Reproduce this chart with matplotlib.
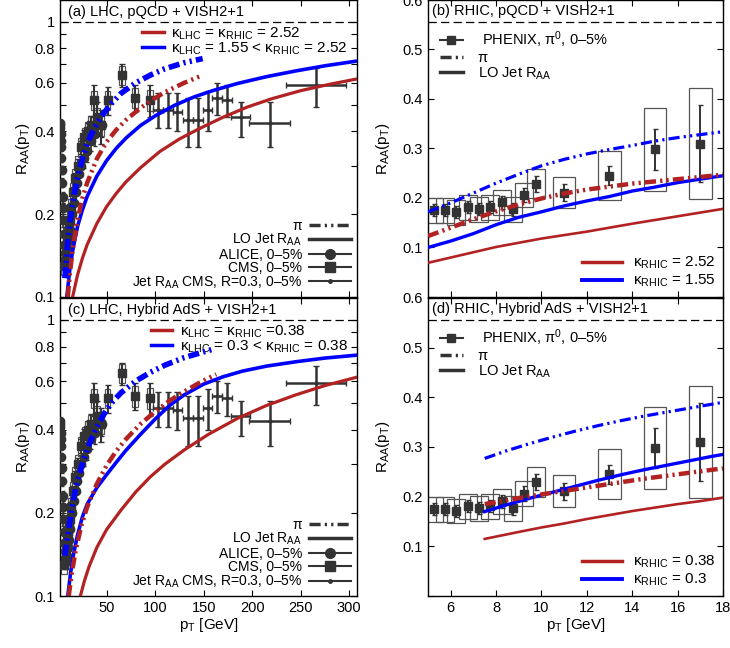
import matplotlib
matplotlib.use('Agg')
import matplotlib.pyplot as plt
import numpy as np
from matplotlib.lines import Line2D
from matplotlib.patches import Rectangle

plt.rcParams['font.family'] = ['Liberation Sans', 'DejaVu Sans']
plt.rcParams['mathtext.fontset'] = 'custom'
plt.rcParams['mathtext.rm'] = 'Liberation Sans'
plt.rcParams['mathtext.it'] = 'Liberation Sans:italic'
plt.rcParams['mathtext.default'] = 'regular'
plt.rcParams['font.size'] = 10.5
plt.rcParams['lines.scale_dashes'] = False

RED = '#b22222'
BLUE = '#0000ff'
DARK = '#333333'
DASHDOT = (0, (8, 3, 1.6, 3, 1.6, 3))

# ---------------- LHC data ----------------
pt_alice = [2.1, 2.3, 2.5, 2.7, 2.9, 3.1, 3.4, 3.8, 4.2, 4.6, 5.0, 5.5, 6.0, 6.5, 7.0, 8.0, 9.0,
            10.0, 11.0, 12.0, 14.0, 16.0, 18.0, 20.0, 22.0, 24.0, 27.0, 30.0, 34.0, 38.0, 45.0]
raa_alice = [0.43, 0.42, 0.41, 0.39, 0.37, 0.35, 0.32, 0.29, 0.26, 0.23, 0.21, 0.19, 0.17, 0.155,
             0.145, 0.135, 0.14, 0.15, 0.16, 0.175, 0.2, 0.22, 0.24, 0.26, 0.28, 0.3, 0.32, 0.34,
             0.37, 0.39, 0.42]
err_alice = [0.01, 0.01, 0.01, 0.01, 0.01, 0.01, 0.01, 0.01, 0.01, 0.01, 0.01, 0.01, 0.01, 0.01,
             0.01, 0.01, 0.01, 0.01, 0.01, 0.01, 0.015, 0.015, 0.02, 0.02, 0.02, 0.025, 0.025, 0.03,
             0.03, 0.035, 0.04]

pt_cms = [6.4, 7.2, 8.0, 8.8, 9.6, 10.4, 11.2, 12.0, 13.6, 15.2, 17.6, 20.8, 24.0, 27.2, 30.4,
          33.6, 36.8, 40.0, 44.0, 51.0, 66.0, 79.0, 95.0]
raa_cms = [0.13, 0.135, 0.14, 0.15, 0.16, 0.17, 0.18, 0.19, 0.21, 0.24, 0.27, 0.30, 0.35, 0.38,
           0.40, 0.42, 0.52, 0.45, 0.42, 0.52, 0.64, 0.53, 0.52]
stat_cms = [0.004, 0.004, 0.005, 0.005, 0.006, 0.006, 0.007, 0.008, 0.009, 0.011, 0.013, 0.016,
            0.02, 0.024, 0.03, 0.035, 0.07, 0.06, 0.06, 0.06, 0.06, 0.06, 0.07]
syst_cms = [0.01, 0.01, 0.011, 0.012, 0.013, 0.014, 0.015, 0.016, 0.017, 0.019, 0.022, 0.024,
            0.028, 0.03, 0.032, 0.034, 0.04, 0.036, 0.034, 0.04, 0.05, 0.045, 0.045]

pt_jet = [103, 113, 123, 134, 144, 154, 164, 174, 188, 218, 266]
raa_jet = [0.48, 0.48, 0.47, 0.44, 0.44, 0.48, 0.53, 0.52, 0.45, 0.43, 0.59]
jet_lo = [0.07, 0.07, 0.07, 0.09, 0.09, 0.08, 0.07, 0.07, 0.07, 0.08, 0.10]
jet_hi = [0.07, 0.07, 0.08, 0.09, 0.09, 0.08, 0.07, 0.07, 0.06, 0.08, 0.09]
jet_xw = [5, 5, 5, 5, 5, 5, 5, 5, 9.5, 21, 31]

# pQCD curves (a)
a_red_lo_x = [15, 20, 25, 30, 40, 50, 60, 70, 85, 105, 125, 145, 170, 195, 220, 250, 280, 308]
a_red_lo_y = [0.10, 0.12, 0.138, 0.155, 0.185, 0.213, 0.238, 0.262, 0.295, 0.338, 0.375, 0.408,
              0.45, 0.49, 0.525, 0.562, 0.593, 0.62]
a_blue_lo_x = [9, 12, 15, 20, 25, 30, 40, 50, 60, 70, 85, 100, 120, 140, 160, 185, 215, 245, 275,
               308]
a_blue_lo_y = [0.10, 0.125, 0.147, 0.18, 0.207, 0.232, 0.275, 0.313, 0.347, 0.378, 0.42, 0.455,
               0.497, 0.533, 0.563, 0.597, 0.632, 0.663, 0.692, 0.72]
a_red_pi_x = [10, 12, 15, 20, 25, 30, 40, 50, 60, 70, 83, 95, 110, 130, 149]
a_red_pi_y = [0.10, 0.12, 0.148, 0.19, 0.228, 0.26, 0.318, 0.366, 0.405, 0.44, 0.48, 0.515, 0.555,
              0.60, 0.64]
a_blue_pi_x = [7, 10, 13, 16, 20, 25, 30, 35, 40, 48, 55, 65, 80, 95, 110, 130, 149]
a_blue_pi_y = [0.117, 0.158, 0.197, 0.23, 0.27, 0.318, 0.36, 0.395, 0.427, 0.47, 0.505, 0.55,
               0.60, 0.64, 0.675, 0.71, 0.735]

# Hybrid AdS curves (c)
c_red_lo_x = [23, 27, 32, 40, 50, 65, 80, 95, 110, 130, 155, 185, 215, 245, 275, 308]
c_red_lo_y = [0.10, 0.113, 0.128, 0.15, 0.174, 0.205, 0.238, 0.27, 0.30, 0.338, 0.385, 0.44,
              0.49, 0.535, 0.578, 0.62]
c_blue_lo_x = [10, 13, 16, 20, 25, 30, 40, 50, 60, 70, 85, 100, 115, 130, 150, 170, 190, 215, 245,
               275, 308]
c_blue_lo_y = [0.10, 0.122, 0.142, 0.166, 0.193, 0.215, 0.247, 0.275, 0.305, 0.337, 0.385, 0.437,
               0.49, 0.535, 0.585, 0.622, 0.652, 0.68, 0.705, 0.727, 0.745]
c_red_pi_x = [11, 14, 18, 24, 30, 40, 50, 60, 70, 85, 100, 115, 130, 145, 163]
c_red_pi_y = [0.10, 0.12, 0.145, 0.18, 0.21, 0.255, 0.297, 0.335, 0.37, 0.42, 0.465, 0.51, 0.55,
              0.59, 0.635]
c_blue_pi_x = [7, 10, 13, 16, 20, 25, 30, 35, 40, 48, 55, 65, 80, 95, 110, 130, 158]
c_blue_pi_y = [0.14, 0.165, 0.195, 0.225, 0.26, 0.30, 0.34, 0.375, 0.41, 0.46, 0.50, 0.545, 0.60,
               0.645, 0.685, 0.73, 0.78]

# ---------------- RHIC data ----------------
pt_phenix = [5.25, 5.75, 6.25, 6.75, 7.25, 7.75, 8.25, 8.75, 9.25, 9.75, 11, 13, 15, 17]
raa_phenix = [0.175, 0.175, 0.171, 0.181, 0.177, 0.181, 0.191, 0.177, 0.206, 0.229, 0.211,
              0.245, 0.298, 0.31]
stat_phenix = [0.012, 0.012, 0.012, 0.012, 0.012, 0.012, 0.013, 0.013, 0.015, 0.016, 0.017,
               0.019, 0.041, 0.078]
syst_phenix = [0.025, 0.025, 0.025, 0.025, 0.025, 0.025, 0.025, 0.025, 0.025, 0.03, 0.032,
               0.05, 0.083, 0.112]
box_w_phenix = [0.4, 0.4, 0.4, 0.4, 0.4, 0.4, 0.4, 0.4, 0.4, 0.4, 0.5, 0.5, 0.5, 0.5]

b_red_lo_x = [5, 8, 10, 12, 14, 16, 18]
b_red_lo_y = [0.069, 0.101, 0.118, 0.132, 0.148, 0.163, 0.178]
b_blue_lo_x = [5, 6, 7, 8, 9, 10, 11, 12, 13, 14, 15, 16, 17, 18]
b_blue_lo_y = [0.10, 0.113, 0.128, 0.146, 0.161, 0.172, 0.184, 0.194, 0.203, 0.214, 0.222,
               0.231, 0.238, 0.245]
b_red_pi_x = [5, 6, 7, 8, 9, 10, 11, 12, 13, 14, 16, 18]
b_red_pi_y = [0.123, 0.14, 0.157, 0.173, 0.187, 0.199, 0.209, 0.217, 0.223, 0.229, 0.238, 0.247]
b_blue_pi_x = [5, 6, 7, 8, 9, 10, 11, 12, 13, 14, 15, 16, 17, 18]
b_blue_pi_y = [0.172, 0.19, 0.21, 0.23, 0.248, 0.265, 0.278, 0.289, 0.298, 0.306, 0.315, 0.322,
               0.328, 0.334]

d_red_lo_x = [7.5, 9, 10, 11, 12, 13, 14, 15, 16, 17, 18]
d_red_lo_y = [0.115, 0.129, 0.138, 0.146, 0.155, 0.163, 0.171, 0.178, 0.185, 0.191, 0.198]
d_x = [7.5, 8.5, 9.5, 10.5, 11.5, 12.5, 13.5, 14.5, 15.5, 16.5, 17.5, 18]
d_blue_lo_y = [0.170, 0.184, 0.197, 0.209, 0.221, 0.233, 0.244, 0.254, 0.263, 0.272, 0.281, 0.285]
d_red_pi_y = [0.185, 0.193, 0.201, 0.208, 0.215, 0.222, 0.229, 0.236, 0.242, 0.248, 0.254, 0.257]
d_blue_pi_y = [0.277, 0.293, 0.307, 0.32, 0.332, 0.343, 0.353, 0.362, 0.37, 0.378, 0.386, 0.39]

RAA_LABEL = 'R$_{AA}$(p$_T$)'
PT_LABEL = 'p$_T$ [GeV]'


def style_axes(ax):
    ax.tick_params(which='both', direction='in', top=True, right=True, length=4, labelsize=10.5)
    for s in ax.spines.values():
        s.set_linewidth(1.0)


def draw_lhc(ax, tag, curves, kappa_labels, show_x):
    # data first, curves on top
    for x, y, s in zip(pt_cms, raa_cms, syst_cms):
        ax.add_patch(Rectangle((x - 3, y - s), 6, 2 * s, fill=False, ec='#555555', lw=0.9, zorder=2))
    ax.errorbar(pt_alice, raa_alice, yerr=err_alice, fmt='o', color=DARK, ms=6, elinewidth=1.2,
                capsize=1.5, zorder=3)
    ax.errorbar(pt_cms, raa_cms, yerr=stat_cms, fmt='s', color=DARK, ms=6, elinewidth=1.5,
                capsize=2, zorder=3)
    ax.errorbar(pt_jet, raa_jet, yerr=[jet_lo, jet_hi], xerr=jet_xw, fmt='o', color=DARK, ms=2,
                elinewidth=1.8, capsize=2, zorder=3)

    (rlx, rly), (blx, bly), (rpx, rpy), (bpx, bpy) = curves
    ax.plot(rlx, rly, color=RED, lw=2.3, zorder=5)
    ax.plot(blx, bly, color=BLUE, lw=2.6, zorder=5)
    ax.plot(rpx, rpy, color=RED, lw=3.2, ls=DASHDOT, zorder=6)
    ax.plot(bpx, bpy, color=BLUE, lw=4.0, ls=DASHDOT, zorder=6)

    ax.axhline(1.0, color='black', lw=0.9, ls=(0, (6, 3)), zorder=1)
    ax.set_yscale('log')
    ax.set_xlim(2, 308)
    ax.set_ylim(0.1, 1.2)
    ax.set_yticks(np.arange(0.1, 1.05, 0.1))
    ax.set_yticklabels(['0.1', '0.2', '', '0.4', '', '0.6', '', '0.8', '', '1'])
    ax.yaxis.set_minor_locator(matplotlib.ticker.NullLocator())
    ax.set_xticks([50, 100, 150, 200, 250, 300])
    if show_x:
        ax.set_xlabel(PT_LABEL, fontsize=11, labelpad=1)
    else:
        ax.set_xticklabels([])
    ax.set_ylabel(RAA_LABEL, fontsize=11, labelpad=2)
    style_axes(ax)
    ax.text(0.027, 0.982, tag, transform=ax.transAxes, va='top', ha='left', fontsize=10.5)

    top = [Line2D([], [], color=RED, lw=2.5), Line2D([], [], color=BLUE, lw=2.5)]
    leg1 = ax.legend(top, kappa_labels, loc='upper right', bbox_to_anchor=(1.0, 0.945),
                     frameon=False, handlelength=1.4, handletextpad=0.5, labelspacing=-0.1,
                     borderaxespad=0.2, fontsize=11)
    ax.add_artist(leg1)
    bottom = [
        Line2D([], [], color=DARK, lw=2.5, ls=DASHDOT),
        Line2D([], [], color=DARK, lw=2.5),
        Line2D([], [], color=DARK, lw=1.5, marker='o', ms=7),
        Line2D([], [], color=DARK, lw=1.5, marker='s', ms=7),
        Line2D([], [], color=DARK, lw=1.5, marker='o', ms=2.5),
    ]
    labels = ['π', 'LO Jet R$_{AA}$', 'ALICE, 0–5%', 'CMS, 0–5%', 'Jet R$_{AA}$ CMS, R=0.3, 0–5%']
    ax.legend(bottom, labels, loc='lower right', markerfirst=False, frameon=False,
              handlelength=3.0, handletextpad=0.5, labelspacing=-0.05, borderaxespad=0.05,
              fontsize=10)


def draw_rhic(ax, tag, curves, kappa_labels, show_x):
    for x, y, s, w in zip(pt_phenix, raa_phenix, syst_phenix, box_w_phenix):
        ax.add_patch(Rectangle((x - w, y - s), 2 * w, 2 * s, fill=False, ec='#555555', lw=0.9,
                               zorder=2))
    ax.errorbar(pt_phenix, raa_phenix, yerr=stat_phenix, fmt='s', color=DARK, ms=6,
                elinewidth=1.4, capsize=1.8, zorder=3)

    (rlx, rly), (blx, bly), (rpx, rpy), (bpx, bpy) = curves
    ax.plot(rlx, rly, color=RED, lw=1.9, zorder=5)
    ax.plot(blx, bly, color=BLUE, lw=2.4, zorder=5)
    ax.plot(rpx, rpy, color=RED, lw=3.2, ls=DASHDOT, zorder=6)
    ax.plot(bpx, bpy, color=BLUE, lw=2.3, ls=DASHDOT, zorder=6)

    ax.axhline(0.556, color='black', lw=0.9, ls=(0, (6, 3)), zorder=1)
    ax.set_xlim(5, 18)
    ax.set_ylim(0, 0.6)
    ax.set_xticks([6, 8, 10, 12, 14, 16, 18])
    ax.set_yticks([0, 0.1, 0.2, 0.3, 0.4, 0.5, 0.6])
    ax.set_yticklabels(['', '0.1', '0.2', '0.3', '0.4', '0.5', '0.6'])
    if show_x:
        ax.set_xlabel(PT_LABEL, fontsize=11, labelpad=1)
    else:
        ax.set_xticklabels([])
    ax.set_ylabel(RAA_LABEL, fontsize=11, labelpad=8)
    style_axes(ax)
    ax.text(0.015, 0.985, tag, transform=ax.transAxes, va='top', ha='left', fontsize=10.5)

    upper = [
        Line2D([], [], color=DARK, lw=1.5, marker='s', ms=6),
        Line2D([], [], color=DARK, lw=2.5, ls=DASHDOT),
        Line2D([], [], color=DARK, lw=2.5),
    ]
    leg1 = ax.legend(upper, [' PHENIX, π$^0$, 0–5%', 'π', 'LO Jet R$_{AA}$'], loc='upper left',
                     bbox_to_anchor=(0.0, 0.94), frameon=False, handlelength=1.6,
                     handletextpad=1.0, labelspacing=0.05, borderaxespad=0.4, fontsize=10.5)
    ax.add_artist(leg1)
    lower = [Line2D([], [], color=RED, lw=2.5), Line2D([], [], color=BLUE, lw=2.8)]
    ax.legend(lower, kappa_labels, loc='lower right', frameon=False, handlelength=2.6,
              handletextpad=0.7, labelspacing=0.1, borderaxespad=0.1, fontsize=11)


fig = plt.figure(figsize=(7.3, 6.48), dpi=100)
ax_a = fig.add_axes([0.0822, 0.5417, 0.4068, 0.4583])
ax_b = fig.add_axes([0.5863, 0.5417, 0.404, 0.4583])
ax_c = fig.add_axes([0.0822, 0.0802, 0.4068, 0.4600])
ax_d = fig.add_axes([0.5863, 0.0802, 0.404, 0.4600])

draw_lhc(ax_a, '(a) LHC, pQCD + VISH2+1',
         [(a_red_lo_x, a_red_lo_y), (a_blue_lo_x, a_blue_lo_y),
          (a_red_pi_x, a_red_pi_y), (a_blue_pi_x, a_blue_pi_y)],
         ['κ$_{LHC}$ = κ$_{RHIC}$ = 2.52', 'κ$_{LHC}$ = 1.55 < κ$_{RHIC}$ = 2.52'], False)
draw_lhc(ax_c, '(c) LHC, Hybrid AdS + VISH2+1',
         [(c_red_lo_x, c_red_lo_y), (c_blue_lo_x, c_blue_lo_y),
          (c_red_pi_x, c_red_pi_y), (c_blue_pi_x, c_blue_pi_y)],
         ['κ$_{LHC}$ = κ$_{RHIC}$ =0.38', 'κ$_{LHC}$ = 0.3 < κ$_{RHIC}$ = 0.38'], True)
draw_rhic(ax_b, '(b) RHIC, pQCD + VISH2+1',
          [(b_red_lo_x, b_red_lo_y), (b_blue_lo_x, b_blue_lo_y),
           (b_red_pi_x, b_red_pi_y), (b_blue_pi_x, b_blue_pi_y)],
          ['κ$_{RHIC}$ = 2.52', 'κ$_{RHIC}$ = 1.55'], False)
draw_rhic(ax_d, '(d) RHIC, Hybrid AdS + VISH2+1',
          [(d_red_lo_x, d_red_lo_y), (d_x, d_blue_lo_y),
           (d_x, d_red_pi_y), (d_x, d_blue_pi_y)],
          ['κ$_{RHIC}$ = 0.38', 'κ$_{RHIC}$ = 0.3'], True)

fig.savefig('out.png', dpi=100)
